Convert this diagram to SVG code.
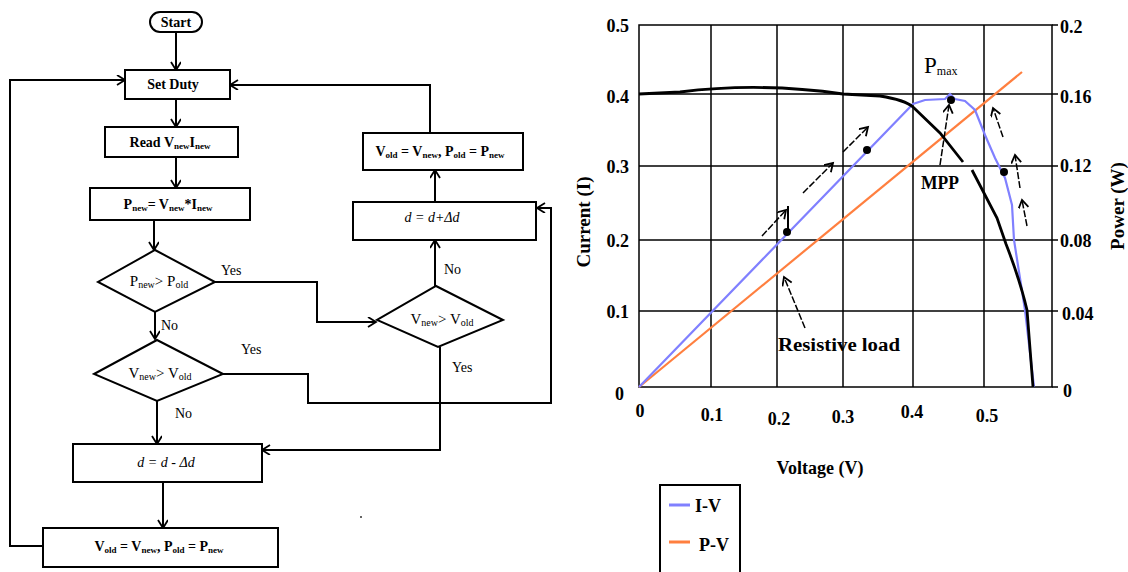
<svg xmlns="http://www.w3.org/2000/svg" width="1128" height="572" viewBox="0 0 1128 572">
<defs>
<marker id="ah" markerUnits="userSpaceOnUse" markerWidth="12" markerHeight="12" refX="9" refY="5" orient="auto">
<path d="M1,0 L9,5 L1,10" fill="none" stroke="#000" stroke-width="1.8"/>
</marker>
<style>
.box{fill:#fff;stroke:#000;stroke-width:2}
.ft{font-family:"Liberation Serif","Times New Roman",serif;font-size:14px;fill:#000}
.sub{font-size:9px}
.dt{font-family:"Liberation Serif","Times New Roman",serif;font-size:15px;fill:#000}
.dsub{font-size:10px}
.lbl{font-family:"Liberation Serif","Times New Roman",serif;font-size:14px;fill:#000}
.con{fill:none;stroke:#000;stroke-width:2}
.grid{stroke:#000;stroke-width:1.5;fill:none}
.ct{font-family:"Liberation Serif","Times New Roman",serif;font-weight:bold;font-size:18px;fill:#000}
.sa{fill:none;stroke:#000;stroke-width:1.5}
</style>
</defs>
<rect width="1128" height="572" fill="#fff"/>

<g id="connectors">
<line class="con" x1="176" y1="32" x2="176" y2="70" marker-end="url(#ah)"/>
<line class="con" x1="176" y1="99" x2="176" y2="127" marker-end="url(#ah)"/>
<line class="con" x1="176" y1="157" x2="176" y2="188" marker-end="url(#ah)"/>
<line class="con" x1="154" y1="220" x2="154" y2="250" marker-end="url(#ah)"/>
<polyline class="con" points="215,282 317,282 317,322 376,322" marker-end="url(#ah)"/>
<line class="con" x1="155" y1="312" x2="155" y2="339" marker-end="url(#ah)"/>
<polyline class="con" points="223,374 308,374 308,403 551,403 551,208 537,208" marker-end="url(#ah)"/>
<line class="con" x1="157" y1="401" x2="157" y2="444" marker-end="url(#ah)"/>
<line class="con" x1="435" y1="286" x2="435" y2="240" marker-end="url(#ah)"/>
<polyline class="con" points="440,347 440,450 262,450" marker-end="url(#ah)"/>
<line class="con" x1="435" y1="202" x2="435" y2="170" marker-end="url(#ah)"/>
<polyline class="con" points="430,133 430,85 230,85" marker-end="url(#ah)"/>
<line class="con" x1="163" y1="482" x2="163" y2="528" marker-end="url(#ah)"/>
<polyline class="con" points="43,546 10,546 10,80 125,80" marker-end="url(#ah)"/>
<text class="lbl" x="221" y="275">Yes</text>
<text class="lbl" x="161" y="330">No</text>
<text class="lbl" x="241" y="354">Yes</text>
<text class="lbl" x="175" y="418">No</text>
<text class="lbl" x="444" y="274">No</text>
<text class="lbl" x="452" y="372">Yes</text>
</g>

<g id="start">
<rect class="box" x="150" y="12" width="52" height="20" rx="10"/>
<text class="ft" x="176" y="27" text-anchor="middle" font-weight="bold">Start</text>
</g>
<g id="set-duty">
<rect class="box" x="125" y="70" width="105" height="29"/>
<text class="ft" x="173" y="89" text-anchor="middle" font-weight="bold">Set Duty</text>
</g>
<g id="read">
<rect class="box" x="105" y="127" width="133" height="30"/>
<text class="ft" x="170" y="147" text-anchor="middle" font-weight="bold">Read V<tspan class="sub" dy="2">new</tspan><tspan dy="-2">I</tspan><tspan class="sub" dy="2">new</tspan></text>
</g>
<g id="pnew">
<rect class="box" x="90" y="188" width="160" height="32"/>
<text class="ft" x="168" y="209" text-anchor="middle" font-weight="bold">P<tspan class="sub" dy="2">new</tspan><tspan dy="-2">= V</tspan><tspan class="sub" dy="2">new</tspan><tspan dy="-2">*I</tspan><tspan class="sub" dy="2">new</tspan></text>
</g>
<g id="dec-p">
<polygon class="box" points="155,250 215,282 155,312 98,282"/>
<text class="dt" x="159" y="286" text-anchor="middle">P<tspan class="dsub" dy="2">new</tspan><tspan dy="-2">&gt; P</tspan><tspan class="dsub" dy="2">old</tspan></text>
</g>
<g id="dec-v-left">
<polygon class="box" points="157,340 223,374 157,401 94,374"/>
<text class="dt" x="160" y="378" text-anchor="middle">V<tspan class="dsub" dy="2">new</tspan><tspan dy="-2">&gt; V</tspan><tspan class="dsub" dy="2">old</tspan></text>
</g>
<g id="dec-v-right">
<polygon class="box" points="436,286 503,320 438,347 377,320"/>
<text class="dt" x="442" y="324" text-anchor="middle">V<tspan class="dsub" dy="2">new</tspan><tspan dy="-2">&gt; V</tspan><tspan class="dsub" dy="2">old</tspan></text>
</g>
<g id="inc">
<rect class="box" x="353" y="202" width="183" height="38"/>
<text class="ft" x="432" y="222" text-anchor="middle" font-style="italic">d = d+Δd</text>
</g>
<g id="update-top">
<rect class="box" x="363" y="133" width="160" height="37"/>
<text class="ft" x="440" y="156" text-anchor="middle" font-weight="bold">V<tspan class="sub" dy="2">old</tspan><tspan dy="-2"> = V</tspan><tspan class="sub" dy="2">new</tspan><tspan dy="-2">, P</tspan><tspan class="sub" dy="2">old</tspan><tspan dy="-2"> = P</tspan><tspan class="sub" dy="2">new</tspan></text>
</g>
<g id="dec">
<rect class="box" x="73" y="444" width="189" height="38"/>
<text class="ft" x="166" y="467" text-anchor="middle" font-style="italic">d =  d - Δd</text>
</g>
<g id="update-bottom">
<rect class="box" x="43" y="528" width="235" height="39"/>
<text class="ft" x="159" y="551" text-anchor="middle" font-weight="bold">V<tspan class="sub" dy="2">old</tspan><tspan dy="-2"> = V</tspan><tspan class="sub" dy="2">new</tspan><tspan dy="-2">, P</tspan><tspan class="sub" dy="2">old</tspan><tspan dy="-2"> = P</tspan><tspan class="sub" dy="2">new</tspan></text>
</g>
<circle cx="361" cy="517" r="1" fill="#333"/>

<g id="chart">
<g class="grid">
<rect x="639" y="25" width="413" height="362"/>
<line x1="711" y1="25" x2="711" y2="387"/>
<line x1="777" y1="25" x2="777" y2="387"/>
<line x1="843" y1="25" x2="843" y2="387"/>
<line x1="913" y1="25" x2="913" y2="387"/>
<line x1="984" y1="25" x2="984" y2="387"/>
<line x1="639" y1="94" x2="1058" y2="94"/>
<line x1="639" y1="166" x2="1058" y2="166"/>
<line x1="639" y1="240" x2="1058" y2="240"/>
<line x1="639" y1="311" x2="1058" y2="311"/>
<line x1="1052" y1="25" x2="1058" y2="25"/>
<line x1="1052" y1="387" x2="1058" y2="387"/>
</g>
<g class="ct">
<text x="629" y="32" text-anchor="end">0.5</text>
<text x="629" y="103" text-anchor="end">0.4</text>
<text x="629" y="173" text-anchor="end">0.3</text>
<text x="629" y="247" text-anchor="end">0.2</text>
<text x="629" y="318" text-anchor="end">0.1</text>
<text x="624" y="400" text-anchor="end">0</text>
<text x="1060" y="33">0.2</text>
<text x="1060" y="103">0.16</text>
<text x="1060" y="172">0.12</text>
<text x="1060" y="247">0.08</text>
<text x="1062" y="320">0.04</text>
<text x="1063" y="397">0</text>
<text x="640" y="417" text-anchor="middle">0</text>
<text x="712" y="421" text-anchor="middle">0.1</text>
<text x="779" y="425" text-anchor="middle">0.2</text>
<text x="843" y="423" text-anchor="middle">0.3</text>
<text x="912" y="418" text-anchor="middle">0.4</text>
<text x="987" y="422" text-anchor="middle">0.5</text>
<text x="820" y="474" text-anchor="middle" font-size="18">Voltage (V)</text>
<text transform="translate(590,222) rotate(-90)" text-anchor="middle" font-size="19">Current (I)</text>
<text transform="translate(1124,206) rotate(-90)" text-anchor="middle" font-size="19">Power (W)</text>
<text x="778" y="351" font-size="18" textLength="122" lengthAdjust="spacingAndGlyphs">Resistive load</text>
<text x="921" y="189" font-size="19" textLength="38" lengthAdjust="spacingAndGlyphs">MPP</text>
<text x="924" y="73" font-size="23" font-weight="normal">P<tspan font-size="12" dy="2">max</tspan></text>
</g>
<polyline fill="none" stroke="#ff7f3f" stroke-width="2.2" points="639,387 1022,72"/>
<polyline fill="none" stroke="#8080ff" stroke-width="2.2" points="639,387 913,104 925,100 945,99 950,94 955,99 965,101 975,110 985,135 995,158 1005,178 1012,205 1014,240 1025,310 1034,387"/>
<path fill="none" stroke="#000" stroke-width="2.8" d="M639,94 L680,92 Q760,82 843,94 L880,96 Q905,100 913,107 L940,133 L963,162 M972,170 L997,218 L1006,244 Q1020,280 1027,310 L1033,387"/>
<circle cx="787" cy="232" r="4"/>
<circle cx="867" cy="150" r="4"/>
<circle cx="951" cy="100" r="4"/>
<circle cx="1004" cy="172" r="4"/>
<g class="sa" stroke-dasharray="7 2">
<line x1="762" y1="236" x2="786" y2="210" marker-end="url(#ah)"/>
<line x1="803" y1="193" x2="833" y2="163" marker-end="url(#ah)"/>
<line x1="843" y1="152" x2="868" y2="127" marker-end="url(#ah)"/>
<line x1="805" y1="328" x2="784" y2="277" marker-end="url(#ah)"/>
<line x1="940" y1="165" x2="949" y2="105" marker-end="url(#ah)"/>
<line x1="1003" y1="137" x2="993" y2="108" marker-end="url(#ah)"/>
<line x1="1020" y1="188" x2="1015" y2="155" marker-end="url(#ah)"/>
<line x1="1027" y1="226" x2="1022" y2="200" marker-end="url(#ah)"/>
</g>
<line x1="788" y1="206" x2="788" y2="232" stroke="#000" stroke-width="2"/>
</g>

<g id="legend">
<rect x="660" y="485" width="80" height="90" fill="#fff" stroke="#000" stroke-width="2"/>
<line x1="669" y1="505" x2="690" y2="505" stroke="#8080ff" stroke-width="3"/>
<line x1="669" y1="542" x2="690" y2="542" stroke="#ff7f3f" stroke-width="3"/>
<text class="ct" x="695" y="512">I-V</text>
<text class="ct" x="699" y="551">P-V</text>
</g>
</svg>
